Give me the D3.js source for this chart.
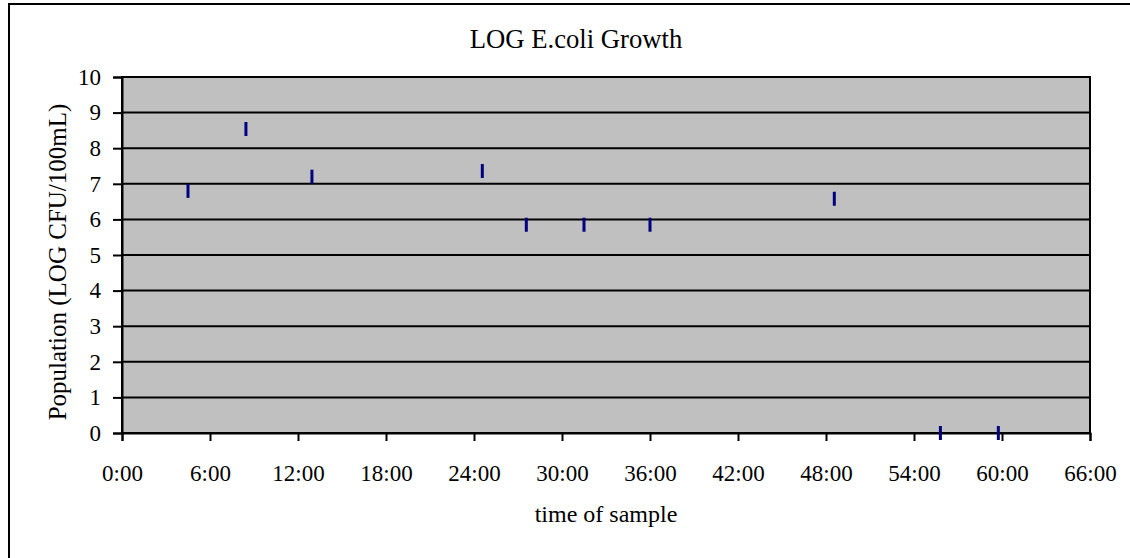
<!DOCTYPE html>
<html>
<head>
<meta charset="utf-8">
<script src="https://cdn.jsdelivr.net/npm/d3@7"></script>
<style>
  html, body { margin: 0; padding: 0; background: #fff; }
  svg { display: block; font-family: "Liberation Serif", "Times New Roman", serif; }
</style>
</head>
<body>
<svg id="chart" width="1130" height="558"></svg>
<script>
// Sample times (h:mm after start) and log10 E. coli counts
const sampleTimes = ["4:30", "8:27", "12:57", "24:34", "27:34", "31:30", "36:00", "48:34", "55:48", "59:45"];
const logCounts   = [6.80, 8.54, 7.20, 7.36, 5.85, 5.85, 5.85, 6.58, 0, 0];

const xTicks = [0, 6, 12, 18, 24, 30, 36, 42, 48, 54, 60, 66];
const yTicks = [0, 1, 2, 3, 4, 5, 6, 7, 8, 9, 10];

const chartTitle = "LOG E.coli Growth";
const xTitle = "time of sample";
const yTitle = "Population (LOG CFU/100mL)";

const toHours = s => { const [h, m] = s.split(":").map(Number); return h + m / 60; };
const points = sampleTimes.map((t, i) => ({ t: toHours(t), v: logCounts[i] }));

const svg = d3.select("#chart");
const plot = { left: 122, top: 77, right: 1090, bottom: 433 };

const x = d3.scaleLinear().domain([0, 66]).range([plot.left, plot.right]);
const y = d3.scaleLinear().domain([0, 10]).range([plot.bottom, plot.top]);

// chart area frame
svg.append("rect")
  .attr("x", 9).attr("y", 4).attr("width", 1200).attr("height", 700)
  .attr("fill", "#fff").attr("stroke", "#000").attr("stroke-width", 2);

// plot area
svg.append("rect")
  .attr("x", plot.left).attr("y", plot.top)
  .attr("width", plot.right - plot.left).attr("height", plot.bottom - plot.top)
  .attr("fill", "#c0c0c0");

// horizontal gridlines
svg.append("g").selectAll("line")
  .data(yTicks.filter(d => d > 0 && d < 10))
  .join("line")
  .attr("x1", plot.left).attr("x2", plot.right)
  .attr("y1", d => y(d)).attr("y2", d => y(d))
  .attr("stroke", "#000").attr("stroke-width", 2);

// plot border
svg.append("rect")
  .attr("x", plot.left).attr("y", plot.top)
  .attr("width", plot.right - plot.left).attr("height", plot.bottom - plot.top)
  .attr("fill", "none").attr("stroke", "#000").attr("stroke-width", 2);

// y axis
const yAxis = d3.axisLeft(y).tickValues(yTicks).tickSize(9).tickPadding(12).tickFormat(d3.format("d"));
const gy = svg.append("g").attr("transform", `translate(${plot.left},0)`).call(yAxis);
gy.select(".domain").attr("stroke-width", 2);
gy.selectAll(".tick line").attr("stroke-width", 2);
gy.selectAll(".tick text")
  .attr("font-size", "23px").attr("fill", "#000")
  .attr("font-family", "Liberation Serif, serif");

// x axis
const hmm = d => `${d}:00`;
const xAxis = d3.axisBottom(x).tickValues(xTicks).tickSize(8).tickPadding(24).tickFormat(hmm);
const gx = svg.append("g").attr("transform", `translate(0,${plot.bottom})`).call(xAxis);
gx.select(".domain").attr("stroke-width", 2);
gx.selectAll(".tick line").attr("stroke-width", 2);
gx.selectAll(".tick text")
  .attr("font-size", "23px").attr("fill", "#000")
  .attr("font-family", "Liberation Serif, serif");

// markers: short vertical dashes centred on each value
svg.append("g").selectAll("line")
  .data(points)
  .join("line")
  .attr("x1", d => x(d.t)).attr("x2", d => x(d.t))
  .attr("y1", d => y(d.v) - 7).attr("y2", d => y(d.v) + 7)
  .attr("stroke", "#000080").attr("stroke-width", 3);

// titles
svg.append("text")
  .attr("x", 576).attr("y", 48)
  .attr("text-anchor", "middle").attr("font-size", "26.7px")
  .text(chartTitle);

svg.append("text")
  .attr("x", (plot.left + plot.right) / 2).attr("y", 522)
  .attr("text-anchor", "middle").attr("font-size", "24px")
  .text(xTitle);

svg.append("text")
  .attr("transform", `translate(66,${(plot.top + plot.bottom) / 2 + 7}) rotate(-90)`)
  .attr("text-anchor", "middle").attr("font-size", "25px")
  .text(yTitle);
</script>
</body>
</html>
